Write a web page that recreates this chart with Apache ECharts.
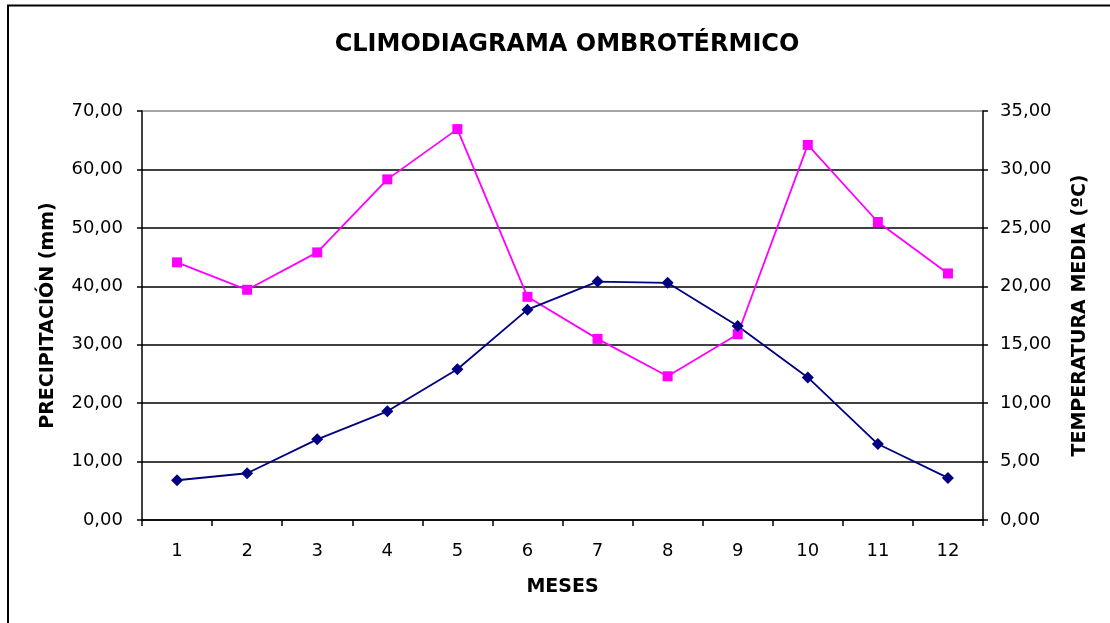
<!DOCTYPE html>
<html>
<head>
<meta charset="utf-8">
<title>Climodiagrama ombrotérmico</title>
<script src="https://cdn.jsdelivr.net/npm/echarts@6/dist/echarts.min.js"></script>
<style>
  html, body { margin: 0; padding: 0; background: #fff; }
  #chart { width: 1110px; height: 623px; }
</style>
</head>
<body>
<div id="chart"></div>
<script>
// Monthly values
const meses = ['1', '2', '3', '4', '5', '6', '7', '8', '9', '10', '11', '12'];
const precipitacion = [44.1, 39.4, 45.8, 58.3, 66.9, 38.2, 31.0, 24.6, 31.8, 64.2, 51.0, 42.2]; // mm
const temperatura = [3.4, 4.0, 6.9, 9.3, 12.9, 18.0, 20.4, 20.3, 16.6, 12.2, 6.5, 3.6];       // ºC

const FONT = 'DejaVu Sans';
const fmt = v => v.toFixed(2).replace('.', ',');

const chart = echarts.init(document.getElementById('chart'), null, { renderer: 'canvas' });

chart.setOption({
  animation: false,
  backgroundColor: '#fff',
  textStyle: { fontFamily: FONT },
  title: {
    text: 'CLIMODIAGRAMA OMBROTÉRMICO',
    left: 562,
    textAlign: 'center',
    top: 28,
    textStyle: { fontFamily: FONT, fontSize: 24, fontWeight: 'bold', color: '#000' }
  },
  graphic: [{
    type: 'rect',
    shape: { x: 8, y: 5.5, width: 1300, height: 800 },
    style: { fill: 'none', stroke: '#000', lineWidth: 2 },
    silent: true
  }],
  grid: { left: 142, right: 127, top: 111, bottom: 103 },
  xAxis: {
    type: 'category',
    data: meses,
    boundaryGap: true,
    name: 'MESES',
    nameLocation: 'middle',
    nameGap: 58,
    nameTextStyle: { fontFamily: FONT, fontSize: 19, fontWeight: 'bold', color: '#000' },
    axisLine: { lineStyle: { color: '#000', width: 1.5 } },
    axisTick: { show: true, length: 6, lineStyle: { color: '#000', width: 1.5 } },
    axisLabel: { margin: 22, fontFamily: FONT, fontSize: 18, color: '#000' },
    splitLine: { show: false }
  },
  yAxis: [{
    type: 'value',
    min: 0, max: 70, interval: 10,
    position: 'left',
    name: 'PRECIPITACIÓN (mm)',
    nameLocation: 'middle',
    nameRotate: 90,
    nameGap: 84,
    nameTextStyle: { fontFamily: FONT, fontSize: 19, fontWeight: 'bold', color: '#000' },
    axisLine: { show: true, lineStyle: { color: '#000', width: 1.5 } },
    axisTick: { show: true, length: 5, lineStyle: { color: '#000', width: 1.5 } },
    axisLabel: { margin: 19, fontFamily: FONT, fontSize: 18, color: '#000', formatter: fmt },
    splitLine: {
      show: true,
      lineStyle: { color: ['#000', '#000', '#000', '#000', '#000', '#000', '#000', '#888'], width: 1.5 }
    }
  }, {
    type: 'value',
    min: 0, max: 35, interval: 5,
    position: 'right',
    name: 'TEMPERATURA MEDIA (ºC)',
    nameLocation: 'middle',
    nameRotate: 90,
    nameGap: 88,
    nameTextStyle: { fontFamily: FONT, fontSize: 19, fontWeight: 'bold', color: '#000' },
    axisLine: { show: true, lineStyle: { color: '#000', width: 1.5 } },
    axisTick: { show: true, length: 5, lineStyle: { color: '#000', width: 1.5 } },
    axisLabel: { margin: 17, fontFamily: FONT, fontSize: 18, color: '#000', formatter: fmt },
    splitLine: { show: false }
  }],
  series: [{
    name: 'Precipitación',
    type: 'line',
    yAxisIndex: 0,
    data: precipitacion,
    symbol: 'rect',
    symbolSize: 10,
    lineStyle: { color: '#ff00ff', width: 1.8 },
    itemStyle: { color: '#ff00ff' }
  }, {
    name: 'Temperatura media',
    type: 'line',
    yAxisIndex: 1,
    data: temperatura,
    symbol: 'diamond',
    symbolSize: 12,
    lineStyle: { color: '#000080', width: 1.8 },
    itemStyle: { color: '#000080' }
  }]
});
</script>
</body>
</html>
